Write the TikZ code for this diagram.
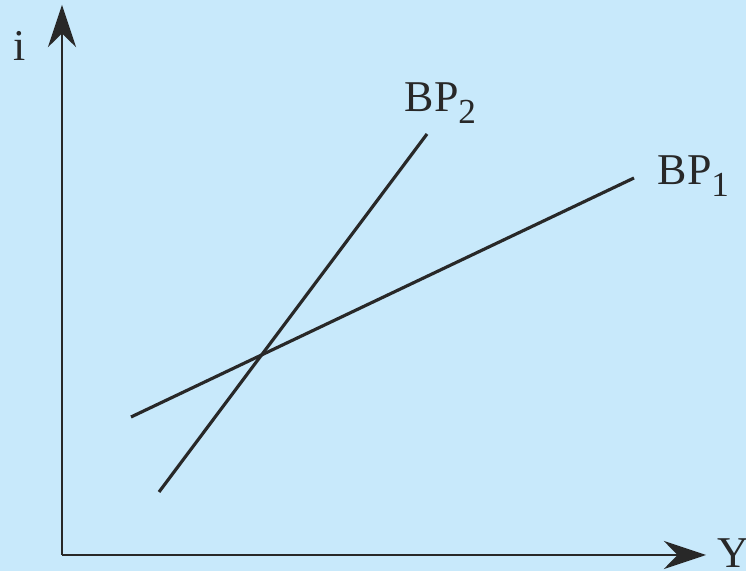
\documentclass[tikz,border=0pt]{standalone}
\usepackage{fontspec}
\setmainfont{Liberation Serif}
\usetikzlibrary{arrows.meta}
\definecolor{bg}{RGB}{200,233,251}
\definecolor{ink}{RGB}{40,40,40}
\newcommand{\lowsub}[1]{\raisebox{-3.2pt}{\fontsize{10}{12}\selectfont #1}}
\tikzset{
  axis/.style={draw=ink, line width=0.6pt, -{Stealth[length=12pt,width=8pt]}},
  curve/.style={draw=ink, line width=0.9pt},
  lbl/.style={font=\fontsize{12.5}{14}\selectfont, text=ink, inner sep=0pt}
}
\begin{document}
\begin{tikzpicture}[x=0.01cm,y=-0.01cm]
\fill[bg] (0,0) rectangle (746,571);
\useasboundingbox (0,0) rectangle (746,571);
\coordinate (O) at (62,555);
\coordinate (ytop) at (62,5);
\coordinate (xend) at (706,555);
\draw[axis] (O) -- (ytop);
\draw[axis] (O) -- (xend);
\node[lbl] (ilbl) at (20,46) {i};
\node[lbl, anchor=west] (Ylbl) at (717,553) {Y};
\coordinate (b2a) at (159,492);
\coordinate (b2b) at (427,134);
\coordinate (b1a) at (131,417);
\coordinate (b1b) at (634,178);
\draw[curve] (b2a) -- (b2b);
\draw[curve] (b1a) -- (b1b);
\node[lbl, anchor=base west] (bp2) at (404,112) {BP\lowsub{2}};
\node[lbl, anchor=base west] (bp1) at (657,185) {BP\lowsub{1}};
\end{tikzpicture}
\end{document}
